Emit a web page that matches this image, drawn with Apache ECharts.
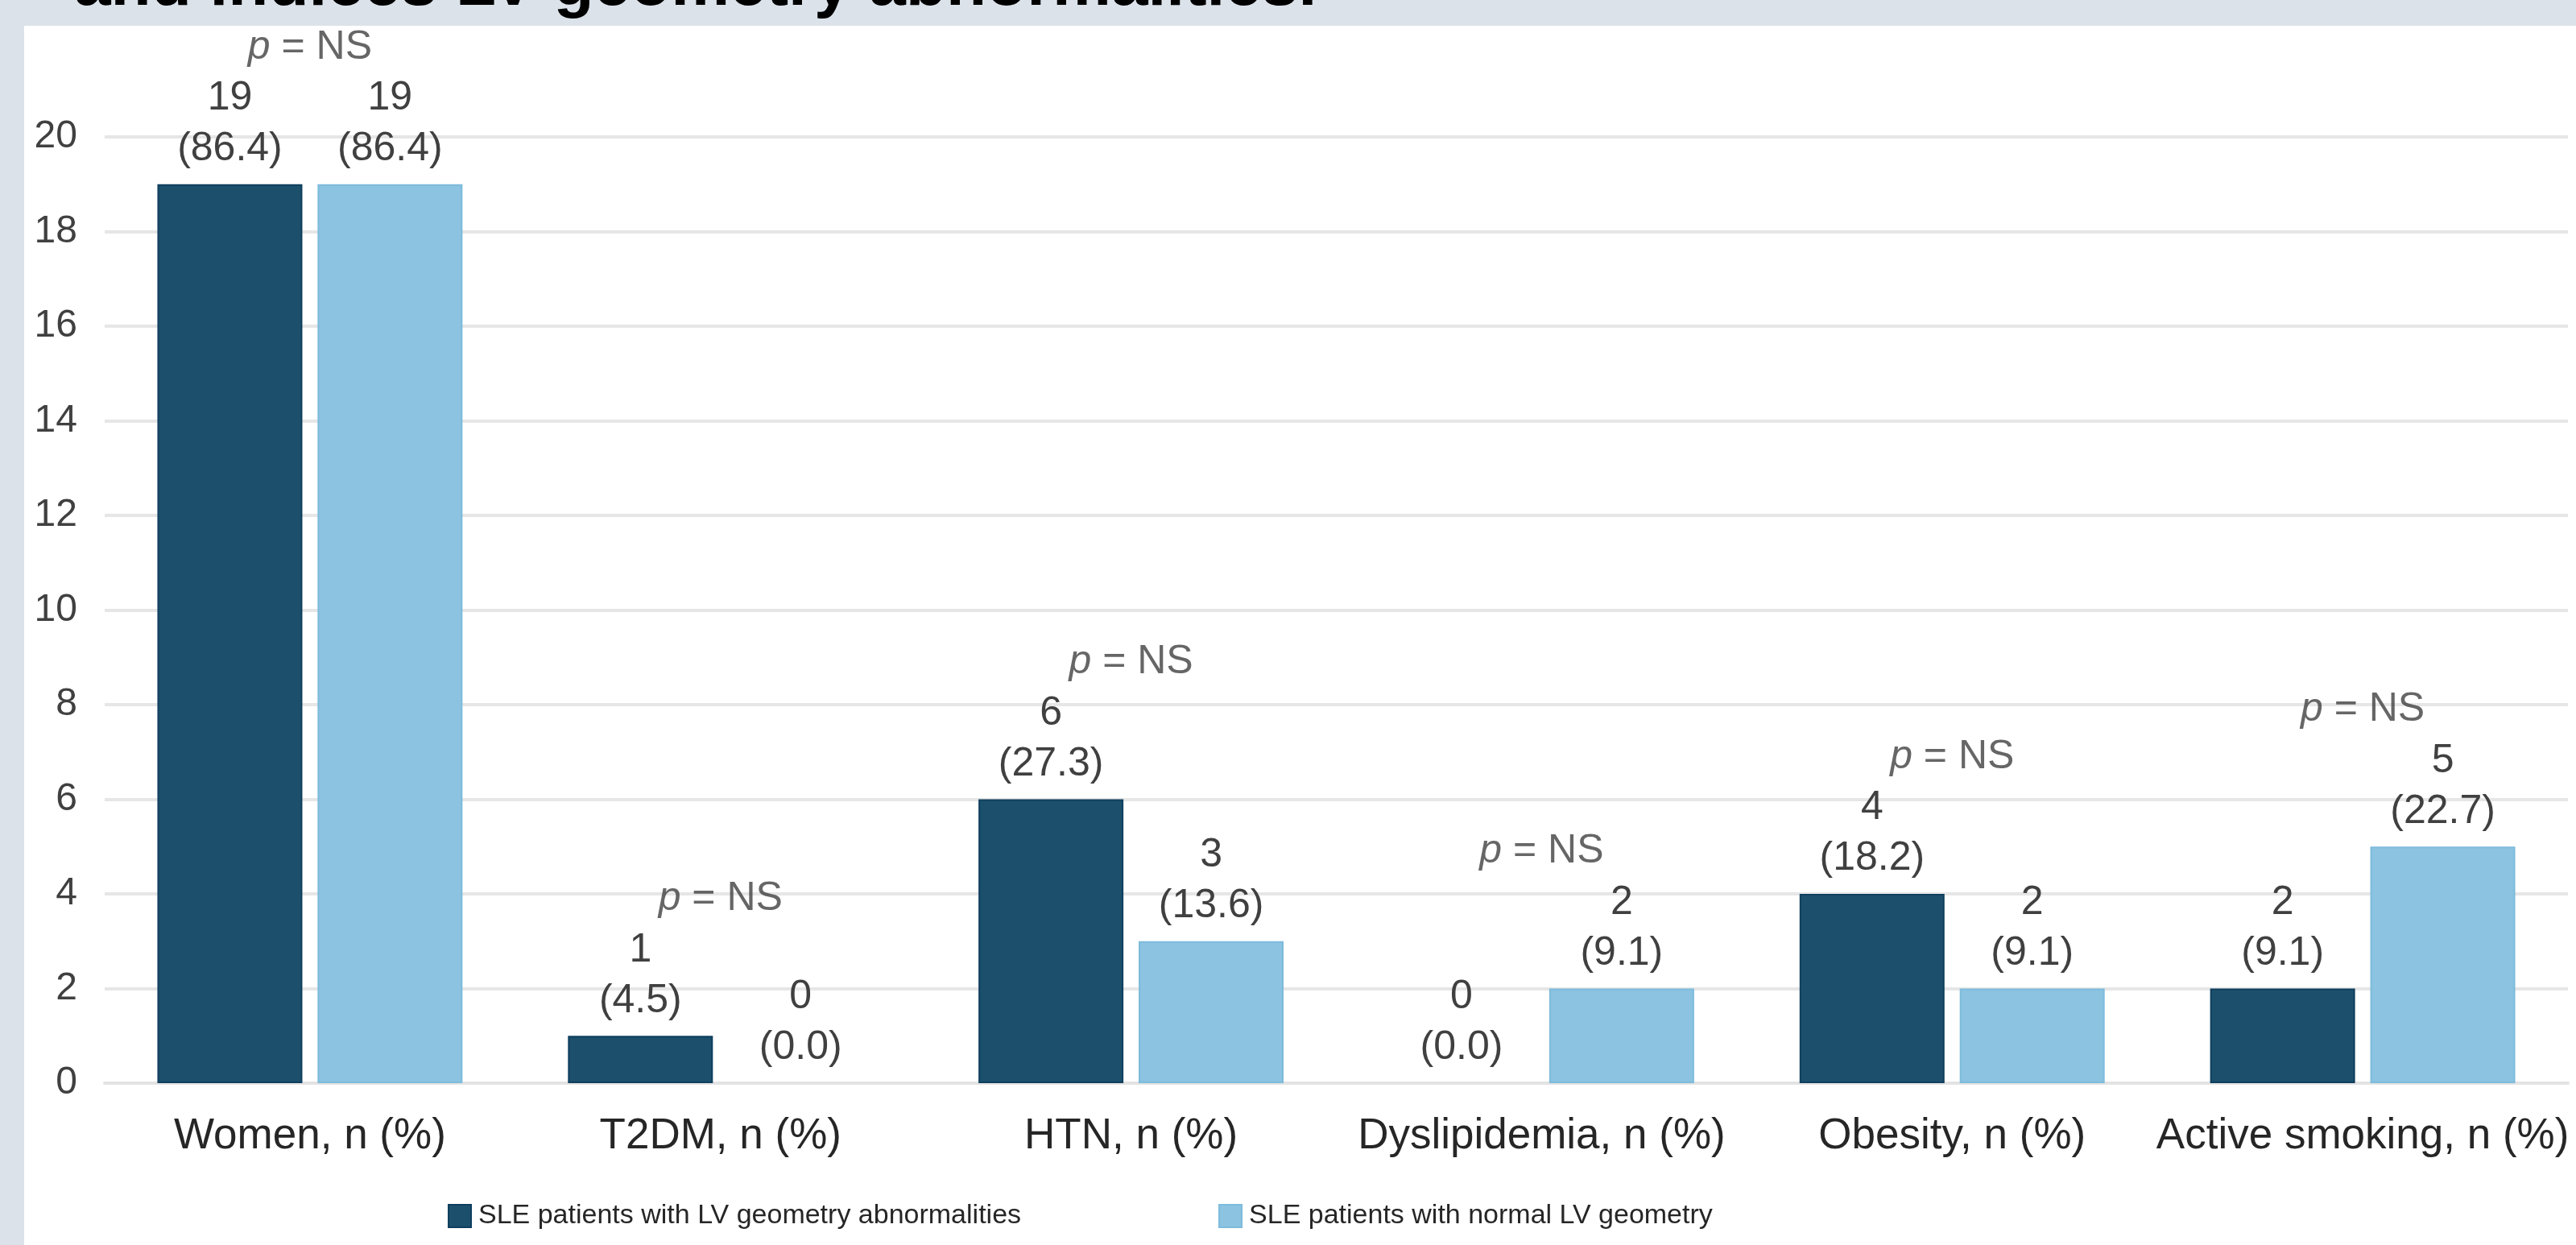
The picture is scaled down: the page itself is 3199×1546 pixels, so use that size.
<!DOCTYPE html>
<html>
<head>
<meta charset="utf-8">
<script src="https://cdn.jsdelivr.net/npm/echarts@6/dist/echarts.min.js"></script>
<style>
  html, body { margin: 0; padding: 0; width: 3199px; height: 1546px; background: #dbe2ea; overflow: hidden; }
  #panel { position: absolute; left: 30px; top: 32px; width: 3169px; height: 1514px; background: #ffffff; }
  #chart { position: absolute; left: 0; top: 0; width: 3199px; height: 1546px; }
</style>
</head>
<body>
<div id="panel"></div>
<div id="chart"></div>
<script>
const categories = ['Women, n (%)', 'T2DM, n (%)', 'HTN, n (%)', 'Dyslipidemia, n (%)', 'Obesity, n (%)', 'Active smoking, n (%)'];
const seriesNames = ['SLE patients with LV geometry abnormalities', 'SLE patients with normal LV geometry'];
const abnormalN = [19, 1, 6, 0, 4, 2];
const abnormalPct = ['86.4', '4.5', '27.3', '0.0', '18.2', '9.1'];
const normalN = [19, 0, 3, 2, 2, 5];
const normalPct = ['86.4', '0.0', '13.6', '9.1', '9.1', '22.7'];
const pValues = ['NS', 'NS', 'NS', 'NS', 'NS', 'NS'];
const yTicks = { min: 0, max: 20, interval: 2 };
const titleText = 'and indices LV geometry abnormalities.';

const FONT = '"Liberation Sans", Arial, sans-serif';
const chart = echarts.init(document.getElementById('chart'), null, { renderer: 'canvas' });

const pAnchor = categories.map((c, i) => Math.max(abnormalN[i], normalN[i]));

function valueLabel(pcts) {
  return {
    show: true,
    position: 'top',
    distance: 12,
    fontFamily: FONT,
    fontSize: 50,
    lineHeight: 63,
    color: '#404040',
    formatter: p => p.value + '\n(' + pcts[p.dataIndex] + ')'
  };
}

function barData(values) {
  return values.map(v => (v === 0 ? { value: v, itemStyle: { borderWidth: 0 } } : v));
}

chart.setOption({
  animation: false,
  backgroundColor: 'transparent',
  textStyle: { fontFamily: FONT },
  graphic: [{
    type: 'text',
    left: 92,
    top: -58,
    style: {
      text: titleText,
      font: 'bold 82px "Liberation Sans", Arial, sans-serif',
      fill: '#000000'
    }
  }],
  grid: { left: 130, right: 10, top: 170, bottom: 201, containLabel: false },
  legend: {
    data: seriesNames,
    left: 551,
    top: 1488,
    itemWidth: 28,
    itemHeight: 28,
    itemGap: 245,
    icon: 'rect',
    textStyle: { fontFamily: FONT, fontSize: 34, color: '#262626', padding: [0, 0, 0, 4] }
  },
  xAxis: {
    type: 'category',
    data: categories,
    axisTick: { show: false },
    axisLine: { show: true, lineStyle: { color: '#e3e3e3', width: 4 } },
    axisLabel: { fontFamily: FONT, fontSize: 53, color: '#262626', margin: 40, interval: 0 }
  },
  yAxis: {
    type: 'value',
    min: yTicks.min,
    max: yTicks.max,
    interval: yTicks.interval,
    axisLine: { show: false },
    axisTick: { show: false },
    axisLabel: { fontFamily: FONT, fontSize: 48, color: '#404040', margin: 34 },
    splitLine: { lineStyle: { color: '#e6e6e6', width: 4 } }
  },
  series: [
    {
      name: seriesNames[0],
      type: 'bar',
      data: barData(abnormalN),
      barWidth: 180,
      barGap: '10.5%',
      itemStyle: { color: '#1c4f6b', borderColor: '#0f3f5e', borderWidth: 2 },
      label: valueLabel(abnormalPct),
      z: 3
    },
    {
      name: seriesNames[1],
      type: 'bar',
      data: barData(normalN),
      barWidth: 180,
      barGap: '10.5%',
      itemStyle: { color: '#8bc3e0', borderColor: '#7dbbdc', borderWidth: 2 },
      label: valueLabel(normalPct),
      z: 3
    },
    {
      name: 'p',
      type: 'scatter',
      data: pAnchor,
      symbolSize: 0,
      silent: true,
      label: {
        show: true,
        position: 'top',
        distance: 145,
        fontFamily: FONT,
        fontSize: 50,
        color: '#404040',
        formatter: p => '{i|p} = ' + pValues[p.dataIndex],
        rich: { i: { fontStyle: 'italic', fontFamily: FONT, fontSize: 50, color: '#404040' } }
      },
      z: 4
    }
  ]
});
</script>
</body>
</html>
